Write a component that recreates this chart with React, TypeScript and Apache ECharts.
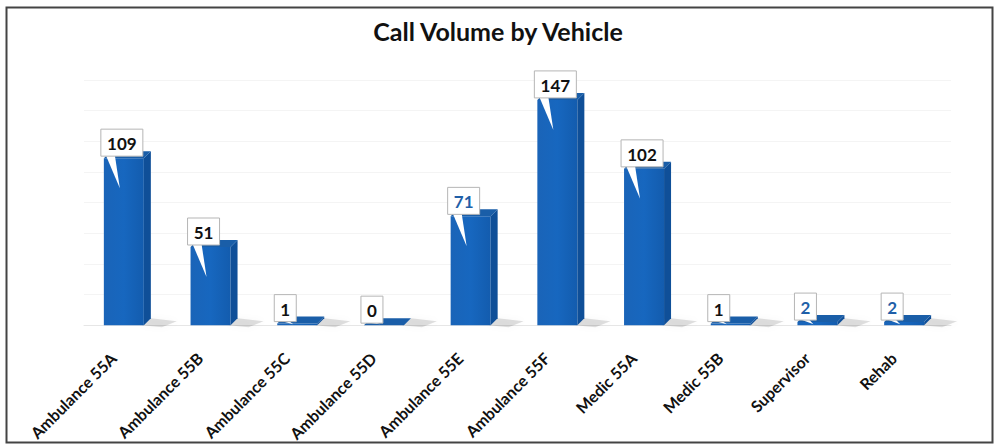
import React, { useEffect, useRef } from "react";
import * as echarts from "echarts";

const categories = [
  "Ambulance 55A",
  "Ambulance 55B",
  "Ambulance 55C",
  "Ambulance 55D",
  "Ambulance 55E",
  "Ambulance 55F",
  "Medic 55A",
  "Medic 55B",
  "Supervisor",
  "Rehab",
];
const callCounts = [109, 51, 1, 0, 71, 147, 102, 1, 2, 2];
const blueLabelCategories = ["Ambulance 55E", "Supervisor", "Rehab"];

export default function App() {
  const ref = useRef<HTMLDivElement>(null);
  useEffect(() => {
    document.body.style.margin = "0";
    const chart = echarts.init(ref.current!, null, { renderer: "svg" });
    const DX = 7;
    const DY = 7;
    const FRONT = 40;
    const FONT = "Lato, 'Open Sans', sans-serif";
    chart.setOption({
      animation: false,
      backgroundColor: "#ffffff",
      title: {
        text: "Call Volume by Vehicle",
        left: "center",
        top: 13,
        textStyle: { fontFamily: FONT, fontWeight: "bold", fontSize: 25, color: "#111" },
      },
      grid: { left: 84, right: 45, top: 80, bottom: 117 },
      xAxis: {
        type: "category",
        data: categories,
        axisTick: { show: false },
        axisLine: { lineStyle: { color: "#e6e6e6" } },
        axisLabel: {
          rotate: 45,
          interval: 0,
          margin: 16,
          padding: [0, 20, 0, 0],
          fontFamily: FONT,
          fontWeight: "bold",
          fontSize: 16,
          color: "#111",
        },
      },
      yAxis: {
        type: "value",
        min: 0,
        max: 160,
        interval: 20,
        axisLabel: { show: false },
        axisLine: { show: false },
        axisTick: { show: false },
        splitLine: { lineStyle: { color: "#f4f4f4" } },
      },
      graphic: [
        {
          type: "rect",
          left: 4,
          top: 5,
          shape: { width: 986, height: 435 },
          style: { fill: "none", stroke: "#444", lineWidth: 2 },
          z: 100,
        },
      ],
      series: [
        {
          type: "custom",
          encode: { x: 0, y: 1 },
          data: callCounts.map((v, i) => [i, v]),
          renderItem: (params: any, api: any) => {
            const idx = api.value(0);
            const val = api.value(1);
            const pt = api.coord([idx, val]);
            const cx = pt[0];
            const top = pt[1];
            const base = api.coord([idx, 0])[1];
            const x0 = cx - (FRONT + DX) / 2;
            const x1 = x0 + FRONT;
            const label = String(val);
            const isBlue = blueLabelCategories.indexOf(categories[idx]) >= 0;
            const bw = label.length * 10 + 12;
            const bh = 27;
            const bx = x0 - 3;
            const bb = top - 2;
            const by = bb - bh;
            const tipY = Math.min(bb + 32, base - 1);
            return {
              type: "group",
              children: [
                {
                  type: "polygon",
                  shape: {
                    points: [
                      [x1 - 2, base],
                      [x1 + DX, base - DY],
                      [x1 + DX + 26, base - DY + 3],
                      [x1 + 18, base + 2],
                    ],
                  },
                  style: {
                    fill: "rgba(0,0,0,0.12)",
                    shadowBlur: 6,
                    shadowColor: "rgba(0,0,0,0.25)",
                  },
                },
                {
                  type: "rect",
                  shape: { x: x0, y: top, width: FRONT, height: Math.max(base - top, 0) },
                  style: {
                    fill: new echarts.graphic.LinearGradient(0, 0, 1, 0, [
                      { offset: 0, color: "#1a64b8" },
                      { offset: 0.5, color: "#1767bf" },
                      { offset: 1, color: "#135cae" },
                    ]),
                  },
                },
                {
                  type: "polygon",
                  shape: {
                    points: [
                      [x1, base],
                      [x1 + DX, base - DY],
                      [x1 + DX, top - DY],
                      [x1, top],
                    ],
                  },
                  style: { fill: "#0f4f98" },
                },
                {
                  type: "polygon",
                  shape: {
                    points: [
                      [x0, top],
                      [x1, top],
                      [x1 + DX, top - DY],
                      [x0 + DX, top - DY],
                    ],
                  },
                  style: { fill: "#1a5ea8" },
                },
                {
                  type: "polygon",
                  shape: {
                    points: [
                      [bx + 5, bb - 1],
                      [bx + 14, bb - 1],
                      [bx + 19, tipY],
                    ],
                  },
                  style: { fill: "#ffffff" },
                },
                {
                  type: "rect",
                  shape: { x: bx, y: by, width: bw, height: bh },
                  style: { fill: "#ffffff", stroke: "#b5b5b5", lineWidth: 1 },
                },
                {
                  type: "text",
                  style: {
                    text: label,
                    x: bx + bw / 2,
                    y: by + bh / 2 + 1,
                    align: "center",
                    verticalAlign: "middle",
                    fontFamily: FONT,
                    fontWeight: "bold",
                    fontSize: 17,
                    fill: isBlue ? "#1f5fa8" : "#111",
                  },
                },
              ],
            };
          },
        },
      ],
    });
    return () => chart.dispose();
  }, []);
  return (
    <div
      ref={ref}
      style={{ position: "fixed", left: 0, top: 0, width: 996, height: 444 }}
    />
  );
}
